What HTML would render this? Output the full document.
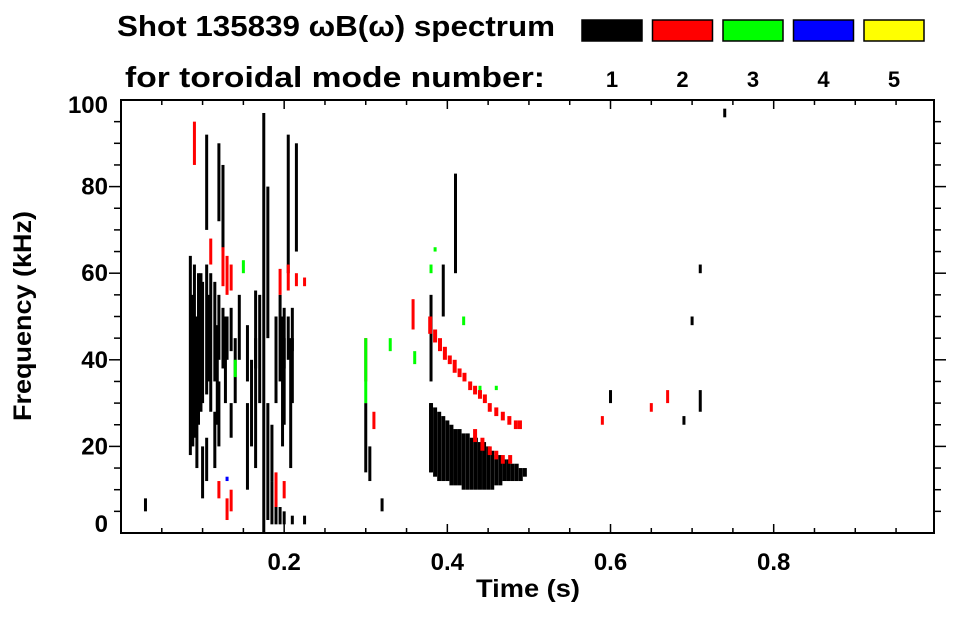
<!DOCTYPE html>
<html><head><meta charset="utf-8"><style>
body{margin:0;background:#fff;}
svg text{font-family:"Liberation Sans",Arial,sans-serif;font-weight:bold;fill:#000;}
</style></head><body>
<svg id="chart" width="963" height="615" xmlns="http://www.w3.org/2000/svg">
<text x="117" y="36" font-size="29" textLength="438" lengthAdjust="spacingAndGlyphs">Shot 135839 ωB(ω) spectrum</text>
<text x="125" y="87" font-size="29" textLength="420" lengthAdjust="spacingAndGlyphs">for toroidal mode number:</text>
<g id="legend"></g>
<g id="marks"></g>
<g id="axes"></g>
<text x="528" y="597" font-size="25" text-anchor="middle" textLength="104" lengthAdjust="spacingAndGlyphs">Time (s)</text>
<text transform="translate(31,316) rotate(-90)" font-size="25" text-anchor="middle" textLength="210" lengthAdjust="spacingAndGlyphs">Frequency (kHz)</text>
</svg>
<script>
const modes=[1,2,3,4,5];
const modeColors=['#000000','#ff0000','#00ff00','#0000ff','#ffff00'];
const xTicks=[0.2,0.4,0.6,0.8];
const yTicks=[0,20,40,60,80,100];
// streaks: [time s, fLow kHz, fHigh kHz, mode]
const streakTime=[0.03,0.085,0.09,0.095,0.1,0.1,0.105,0.105,0.105,0.11,0.115,0.115,0.12,0.12,0.12,0.125,0.125,0.13,0.135,0.135,0.14,0.145,0.155,0.155,0.165,0.165,0.17,0.175,0.18,0.18,0.185,0.19,0.19,0.195,0.195,0.2,0.2,0.2,0.205,0.205,0.21,0.21,0.21,0.215,0.225,0.3,0.305,0.32,0.38,0.38,0.395,0.41,0.6,0.69,0.71,0.7,0.71,0.74,0.088,0.093,0.098,0.108,0.118,0.128,0.16,0.185,0.198,0.208,
0.09,0.11,0.125,0.13,0.135,0.195,0.205,0.215,0.225,0.12,0.13,0.135,0.19,0.2,0.31,0.358,0.3,0.59,0.65,0.67,
0.15,0.14,0.3,0.33,0.36,0.38,0.42,0.44,0.46,0.385,0.13];
const streakLow=[5,18,22,25,30,8,32,12,70,28,35,15,40,20,72,38,65,40,42,22,30,40,35,10,38,15,30,0,3,45,2,2,30,35,2,38,25,2,40,60,42,30,2,65,2,14,12,5,35,14,50,60,30,25,28,48,60,96,20,15,28,35,25,30,20,12,20,15,
85,62,57,55,56,55,56,57,57,8,3,5,6,8,24,47,35,25,28,30,
60,36,30,42,39,60,48,32,33,65,12];
const streakHigh=[8,64,62,60,58,20,62,22,92,60,58,28,55,35,90,52,85,50,52,30,45,55,48,30,56,45,55,97,30,80,12,8,50,55,6,52,45,5,50,92,52,45,4,90,4,30,20,8,55,30,62,83,33,27,33,50,62,98,55,50,60,55,48,50,40,25,50,45,
95,68,66,64,62,61,62,60,59,12,8,10,14,12,28,54,45,27,30,33,
63,40,45,45,42,62,50,34,34,66,13];
const streakMode=[1,1,1,1,1,1,1,1,1,1,1,1,1,1,1,1,1,1,1,1,1,1,1,1,1,1,1,1,1,1,1,1,1,1,1,1,1,1,1,1,1,1,1,1,1,1,1,1,1,1,1,1,1,1,1,1,1,1,1,1,1,1,1,1,1,1,1,1,
2,2,2,2,2,2,2,2,2,2,2,2,2,2,2,2,2,2,2,2,
3,3,3,3,3,3,3,3,3,3,4];
// chirp bands: time, low, high, mode
const chirpTime=[0.38,0.385,0.39,0.395,0.40,0.405,0.41,0.415,0.42,0.425,0.43,0.435,0.44,0.445,0.45,0.455,0.46,0.465,0.47,0.475,0.48,0.485,0.49,0.495,
0.379,0.385,0.391,0.397,0.403,0.409,0.415,0.421,0.428,0.434,0.44,0.446,0.452,0.46,0.468,0.476,0.484,0.489,
0.434,0.443,0.452,0.46,0.468,0.477];
const chirpLow=[14,13,12,12,12,11,11,11,10,10,10,10,10,10,10,10,11,11,12,12,12,12,12,13,
46,44,42,40,39,37,36,35,33,32,31,30,28,27,26,25,24,24,
21,19,18,17,16,16];
const chirpHigh=[30,29,28,27,26,25,24,24,23,23,22,22,21,21,20,19,18,18,17,17,16,16,15,15,
50,47,45,43,41,40,38,37,35,34,33,32,30,29,28,27,26,26,
24,22,20,19,18,18];
const chirpMode=[1,1,1,1,1,1,1,1,1,1,1,1,1,1,1,1,1,1,1,1,1,1,1,1,
2,2,2,2,2,2,2,2,2,2,2,2,2,2,2,2,2,2,
2,2,2,2,2,2];

const X0=121,X1=934,Y0=533,Y1=100,TMAX=0.9965,FMAX=100;
const xS=t=>X0+t/TMAX*(X1-X0);
const yS=f=>Y0-f/FMAX*(Y0-Y1);
const NS='http://www.w3.org/2000/svg';
function mk(tag,attrs,parent){const e=document.createElementNS(NS,tag);for(const k in attrs)e.setAttribute(k,attrs[k]);parent.appendChild(e);return e;}

const leg=document.getElementById('legend');
modes.forEach((m,i)=>{
  const x=582+i*70.5;
  const r=mk('rect',{x:x,y:20,width:60,height:21,fill:modeColors[i],stroke:'#000','stroke-width':1.5},leg);
  
  
  const t=mk('text',{x:x+30,y:87,'font-size':22,'text-anchor':'middle'},leg);
  t.textContent=m;
  
  
});

const marks=document.getElementById('marks');
function drawSet(T,L,H,M,w,prefix){
  for(let i=0;i<T.length;i++){
    const r=mk('rect',{x:xS(T[i])-w/2,y:yS(H[i]),width:w,height:Math.max(1.5,yS(L[i])-yS(H[i])),fill:modeColors[M[i]-1]},marks);
    
    
  }
}
drawSet(streakTime,streakLow,streakHigh,streakMode,3,'streak');
drawSet(chirpTime,chirpLow,chirpHigh,chirpMode,4,'chirp');

const ax=document.getElementById('axes');
mk('rect',{x:X0,y:Y1,width:X1-X0,height:Y0-Y1,fill:'none',stroke:'#000','stroke-width':2},ax);
for(let k=1;k<20;k++){const t=k*0.05;if(t>TMAX)break;const x=xS(t);const L=(k%4===0)?9:5;
  mk('line',{x1:x,y1:Y0,x2:x,y2:Y0-L,stroke:'#000','stroke-width':1.5},ax);
  mk('line',{x1:x,y1:Y1,x2:x,y2:Y1+L,stroke:'#000','stroke-width':1.5},ax);}
for(let k=1;k<20;k++){const f=k*5;const y=yS(f);const L=(k%4===0)?12:7;
  mk('line',{x1:X0,y1:y,x2:X0-L,y2:y,stroke:'#000','stroke-width':1.5},ax);
  mk('line',{x1:X1,y1:y,x2:X1+L,y2:y,stroke:'#000','stroke-width':1.5},ax);}
xTicks.forEach(t=>{const e=mk('text',{x:xS(t),y:570,'font-size':24,'text-anchor':'middle'},ax);e.textContent=t.toFixed(1);
  
  });
yTicks.forEach(f=>{let y=yS(f)+8;if(f===0)y=532;if(f===100)y=113;const e=mk('text',{x:108,y:y,'font-size':24,'text-anchor':'end'},ax);e.textContent=f;
  
  });
</script>
</body></html>
